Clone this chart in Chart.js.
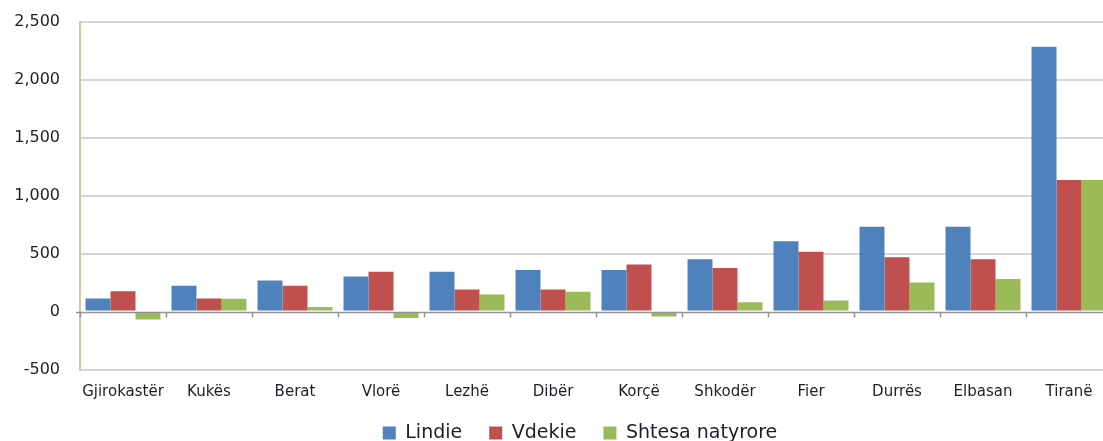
<!DOCTYPE html>
<html>
<head>
<meta charset="utf-8">
<script src="https://cdn.jsdelivr.net/npm/chart.js@4.4.0/dist/chart.umd.min.js"></script>
<style>
  html, body { margin: 0; padding: 0; background: #fff; overflow: hidden; }
  .chart-container { width: 1152px; height: 441px; }
</style>
</head>
<body>
<div class="chart-container"><canvas id="chart" width="1152" height="441"></canvas></div>
<script>
const categories = ['Gjirokastër', 'Kukës', 'Berat', 'Vlorë', 'Lezhë', 'Dibër', 'Korçë', 'Shkodër', 'Fier', 'Durrës', 'Elbasan', 'Tiranë'];
const lindie = [112, 222, 268, 303, 343, 360, 360, 452, 608, 732, 732, 2286];
const vdekie = [176, 112, 222, 343, 190, 190, 406, 377, 516, 470, 452, 1136];
const shtesa = [-68, 110, 40, -55, 148, 172, -42, 80, 95, 252, 282, 1136];
const yTicks = [-500, 0, 500, 1000, 1500, 2000, 2500];

const textColor = '#1e1e28';
const fontFamily = 'DejaVu Sans';

// zero line with the little category ticks hanging below it
const zeroAxisLine = {
  id: 'zeroAxisLine',
  afterDatasetsDraw(chart) {
    const { ctx, chartArea, scales: { x, y } } = chart;
    const y0 = Math.round(y.getPixelForValue(0)) + 0.5;
    const half = (x.getPixelForValue(1) - x.getPixelForValue(0)) / 2;
    ctx.save();
    ctx.strokeStyle = '#939393';
    ctx.lineWidth = 1.5;
    ctx.beginPath();
    ctx.moveTo(chartArea.left - 4, y0);
    ctx.lineTo(chartArea.right, y0);
    for (let i = 0; i <= categories.length; i++) {
      const px = Math.round(x.getPixelForValue(i) - half) + 0.5;
      ctx.moveTo(px, y0);
      ctx.lineTo(px, y0 + 5);
    }
    ctx.stroke();
    ctx.restore();
  }
};

const ctx = document.getElementById('chart').getContext('2d');
new Chart(ctx, {
  type: 'bar',
  data: {
    labels: categories,
    datasets: [
      { label: 'Lindie', data: lindie, backgroundColor: '#4f81bd' },
      { label: 'Vdekie', data: vdekie, backgroundColor: '#c0504d' },
      { label: 'Shtesa natyrore', data: shtesa, backgroundColor: '#9bbb59' }
    ]
  },
  options: {
    responsive: false,
    animation: false,
    devicePixelRatio: 1,
    datasets: {
      bar: { categoryPercentage: 0.872, barPercentage: 1, borderWidth: 0 }
    },
    layout: { padding: { top: 22, left: 8, right: 0, bottom: -11.5 } },
    scales: {
      x: {
        position: { y: yTicks[0] },
        grid: { display: false, drawTicks: false },
        border: { display: false },
        ticks: { color: textColor, font: { family: fontFamily, size: 15 }, padding: 14, maxRotation: 0 }
      },
      y: {
        min: yTicks[0],
        max: yTicks[yTicks.length - 1],
        grid: {
          tickLength: 20,
          tickColor: 'rgba(0,0,0,0)',
          lineWidth: 2,
          color: (c) => (c.tick && c.tick.value === 0 ? 'rgba(0,0,0,0)' : '#d6d6d6')
        },
        border: { display: true, color: '#cfc79e', width: 2 },
        ticks: {
          stepSize: 500,
          padding: 0,
          color: textColor,
          font: { family: fontFamily, size: 16 },
          callback: (v) => v.toLocaleString('en-US')
        },
        afterFit(scale) { scale.width = 72; }
      },
      // empty right-hand box, only there to keep the plot where it is
      yRight: {
        position: 'right',
        grid: { display: false, drawTicks: false },
        border: { display: false },
        ticks: { display: false },
        afterFit(scale) { scale.width = 40; }
      }
    },
    plugins: {
      legend: {
        display: true,
        position: 'bottom',
        title: { display: true, text: '', padding: 4.5, font: { size: 15 } },
        labels: {
          boxWidth: 13,
          boxHeight: 13,
          padding: 27,
          color: textColor,
          font: { family: fontFamily, size: 19 }
        }
      },
      tooltip: { enabled: false }
    }
  },
  plugins: [zeroAxisLine]
});
</script>
</body>
</html>
